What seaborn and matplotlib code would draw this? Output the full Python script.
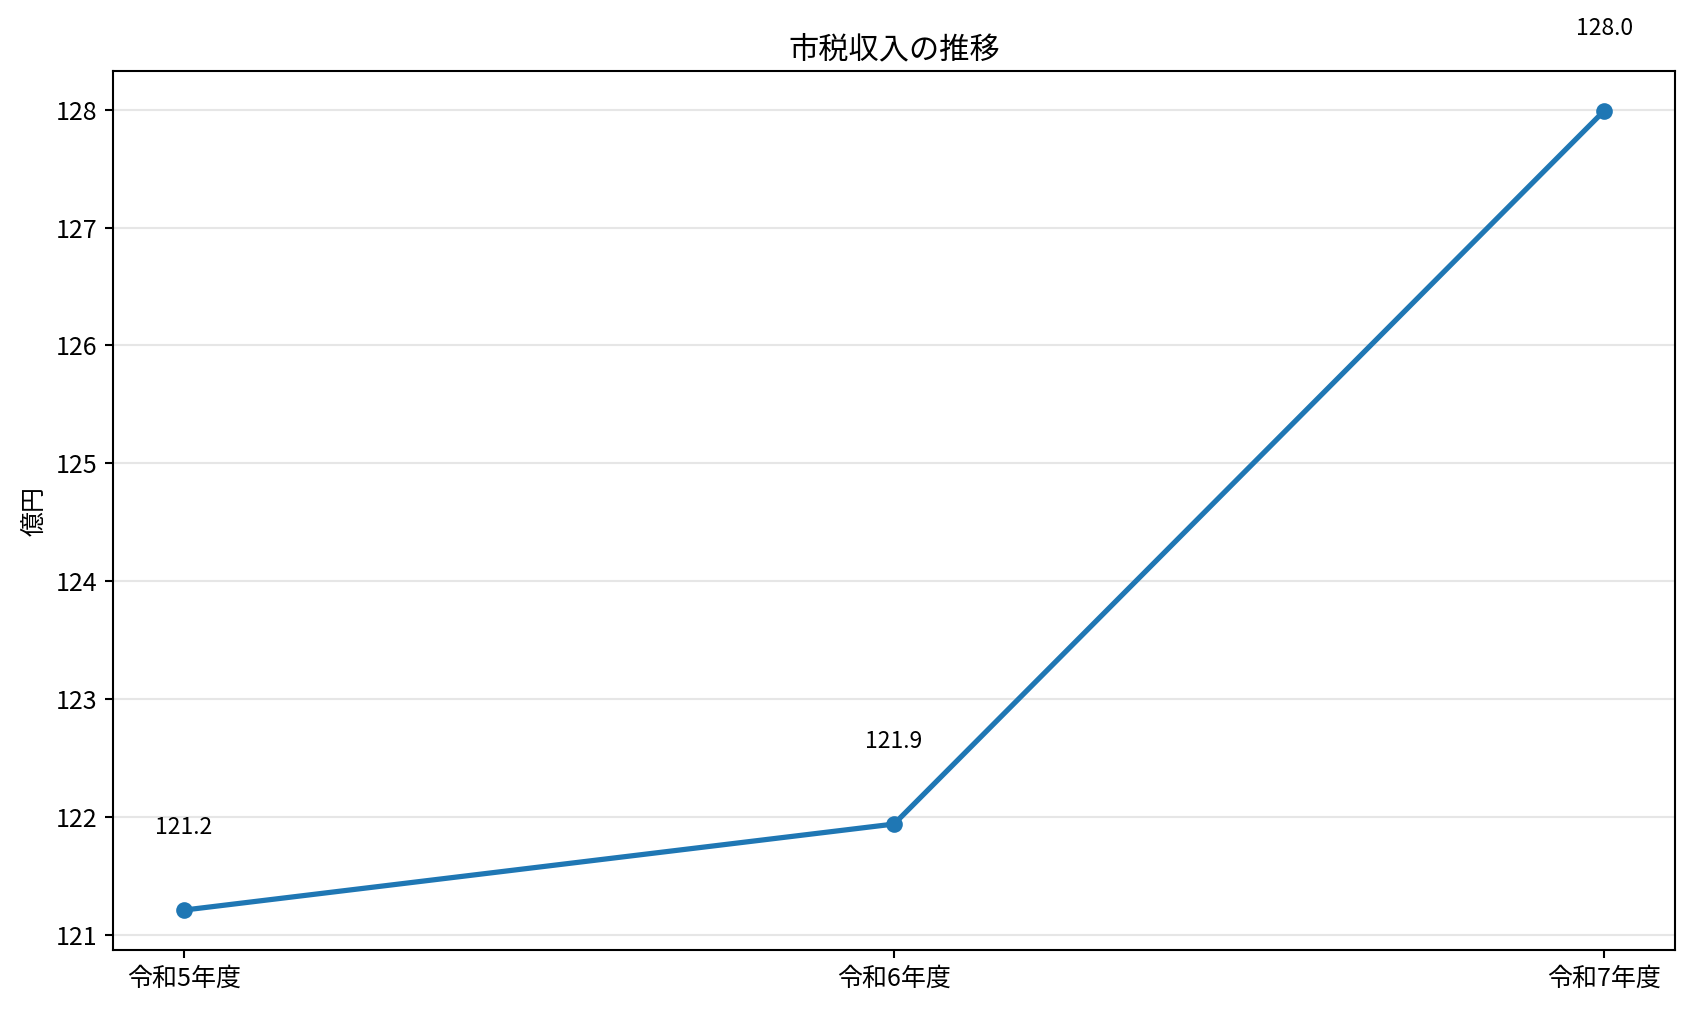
import pandas as pd
import matplotlib
matplotlib.use('Agg')
import matplotlib.pyplot as plt
import seaborn as sns

# データ
years = ['令和5年度', '令和6年度', '令和7年度']
tax_revenue = [121.21, 121.94, 127.99]   # 億円
value_labels = ['121.2', '121.9', '128.0']

df = pd.DataFrame({'年度': years, '市税収入': tax_revenue})

sns.set_style('white', {'text.color': 'black', 'axes.labelcolor': 'black',
                        'xtick.color': 'black', 'ytick.color': 'black',
                        'axes.edgecolor': 'black'})
plt.rcParams['font.family'] = ['Noto Sans CJK JP', 'DejaVu Sans']

fig = plt.figure(figsize=(11.28, 6.74), dpi=150)
ax = fig.add_axes([0.0668, 0.0603, 0.9232, 0.8695])

sns.lineplot(data=df, x='年度', y='市税収入', ax=ax, marker='o',
             color='#1f77b4', linewidth=2.5, markersize=8,
             markeredgewidth=0, sort=False)

# 値ラベル
for i, (v, lab) in enumerate(zip(tax_revenue, value_labels)):
    ax.text(i, v + 0.7, lab, ha='center', va='center', fontsize=11, color='black')

ax.set_title('市税収入の推移', fontsize=14.5, pad=6, color='black')
ax.set_xlabel('')
ax.set_ylabel('億円', fontsize=12)
ax.tick_params(axis='both', labelsize=12, length=4, width=1, color='black',
               left=True, bottom=True)
ax.grid(axis='y', color='#e6e6e6', linewidth=1)
ax.set_axisbelow(True)
for s in ax.spines.values():
    s.set_color('black')
    s.set_linewidth(1)

fig.savefig('out.png', dpi=150)
